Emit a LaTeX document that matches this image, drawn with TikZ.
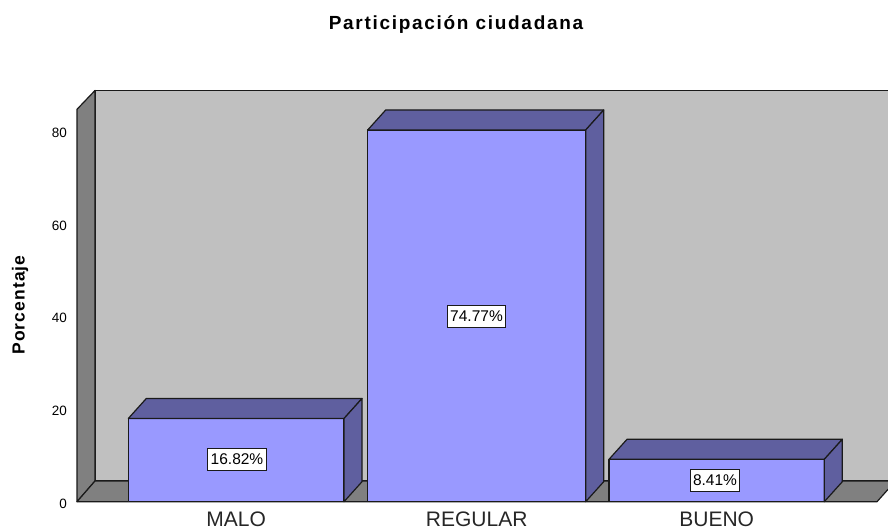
\documentclass[tikz,border=0pt]{standalone}
\usepackage{fontspec}
\setmainfont{Liberation Sans}
\newfontfamily\titlefont[LetterSpace=9]{Liberation Sans}
\newfontfamily\axisfont[LetterSpace=6]{Liberation Sans}
\definecolor{wallback}{HTML}{C0C0C0}
\definecolor{wallside}{HTML}{808080}
\definecolor{barfront}{HTML}{9999FF}
\definecolor{bardark}{HTML}{5F5F9F}
\definecolor{edgecol}{HTML}{1A1A1A}
\tikzset{
  edgeline/.style={draw=edgecol, line width=1.2pt, line join=round},
  valbox/.style={draw=edgecol, fill=white, line width=1pt, font=\fontsize{15.5}{15.5}\selectfont, inner xsep=3pt, inner ysep=0pt, minimum height=22pt},
  catlabel/.style={font=\fontsize{21}{21}\selectfont, text=black!85, anchor=base, inner sep=0pt},
  ticklabel/.style={font=\fontsize{13.5}{13.5}\selectfont, anchor=east, inner sep=0pt},
}
\newcommand\drawcbar[3]{%
  \path[edgeline, fill=barfront] (#1,501.7) rectangle (#2,#3);
  \path[edgeline, fill=bardark] (#1,#3) -- ({#1+18},{#3-20}) -- ({#2+18},{#3-20}) -- (#2,#3) -- cycle;
  \path[edgeline, fill=bardark] (#2,#3) -- ({#2+18},{#3-20}) -- ({#2+18},481.7) -- (#2,501.7) -- cycle;
}
\begin{document}
\begin{tikzpicture}[x=1pt,y=-1pt]
\useasboundingbox (0,0) rectangle (888,529);
\begin{scope}
\clip (0,0) rectangle (888,529);
% back wall
\path[edgeline, fill=wallback] (95,90.5) rectangle (900,481);
% left wall
\path[edgeline, fill=wallside] (77,109.3) -- (95,90.5) -- (95,481) -- (77,501.7) -- cycle;
% floor
\path[edgeline, fill=wallside] (77,501.7) -- (95,481) -- (895.5,481) -- (877,501.7) -- cycle;
% bars
\drawcbar{128.3}{344}{418.5}
\drawcbar{367.7}{585.7}{130}
\drawcbar{609}{824.3}{459.3}
\end{scope}
% value labels
\node[valbox] (v1) at (237,459.5) {16.82\%};
\node[valbox] (v2) at (476.5,316) {74.77\%};
\node[valbox] (v3) at (715,480.5) {8.41\%};
% category labels
\node[catlabel] (c1) at (236.2,526.5) {MALO};
\node[catlabel] (c2) at (476.7,526.5) {REGULAR};
\node[catlabel] (c3) at (716.7,526.5) {BUENO};
% tick labels
\node[ticklabel] (t80) at (67,132.5) {80};
\node[ticklabel] (t60) at (67,225.4) {60};
\node[ticklabel] (t40) at (67,318.3) {40};
\node[ticklabel] (t20) at (67,411.2) {20};
\node[ticklabel] (t0) at (67,504) {0};
% title and axis label
\node[font=\titlefont\bfseries\fontsize{19}{19}\selectfont, anchor=base, inner sep=0pt] (title) at (456,30) {Participación ciudadana};
\node[font=\axisfont\bfseries\fontsize{17.5}{17.5}\selectfont, anchor=base, rotate=90, inner sep=0pt] (ylab) at (24.5,305) {Porcentaje};
\end{tikzpicture}
\end{document}
